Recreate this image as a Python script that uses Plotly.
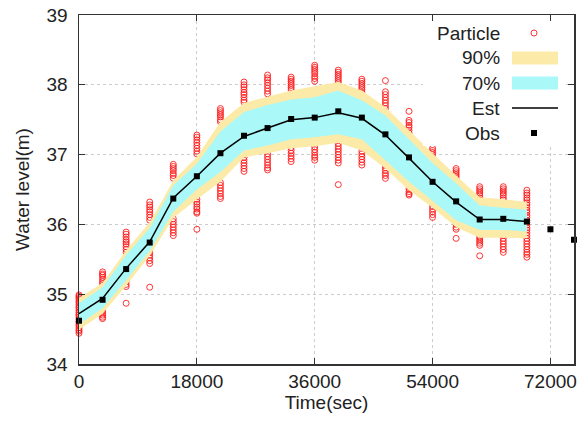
import plotly.graph_objects as go

# ---------------- data ----------------
obs_time = [0, 3600, 7200, 10800, 14400, 18000, 21600, 25200, 28800, 32400, 36000,
            39600, 43200, 46800, 50400, 54000, 57600, 61200, 64800, 68400, 72000, 75600]
obs_level = [34.62, 34.92, 35.36, 35.74, 36.37, 36.69, 37.02, 37.27, 37.38, 37.51, 37.53,
             37.62, 37.53, 37.29, 36.96, 36.61, 36.33, 36.07, 36.08, 36.04, 35.93, 35.78]

est_time = [0, 3600, 7200, 10800, 14400, 18000, 21600, 25200, 28800, 32400, 36000,
            39600, 43200, 46800, 50400, 54000, 57600, 61200, 64800, 68400]
est_level = [34.72, 34.94, 35.37, 35.75, 36.38, 36.69, 37.02, 37.26, 37.38, 37.50, 37.53,
             37.60, 37.52, 37.28, 36.95, 36.61, 36.32, 36.07, 36.07, 36.04]

p90_low = [34.49, 34.72, 35.12, 35.55, 36.09, 36.36, 36.61, 36.96, 37.02, 37.09, 37.12,
           37.17, 37.06, 36.80, 36.49, 36.24, 35.96, 35.81, 35.81, 35.80]
p90_high = [34.95, 35.16, 35.63, 36.03, 36.63, 36.97, 37.47, 37.74, 37.83, 37.92, 37.98,
            38.04, 37.92, 37.68, 37.35, 37.02, 36.70, 36.39, 36.36, 36.32]
p70_low = [34.57, 34.80, 35.20, 35.62, 36.18, 36.50, 36.75, 37.06, 37.13, 37.22, 37.25,
           37.29, 37.22, 36.92, 36.61, 36.34, 36.06, 35.92, 35.92, 35.90]
p70_high = [34.87, 35.10, 35.56, 35.95, 36.56, 36.87, 37.33, 37.61, 37.71, 37.79, 37.82,
            37.92, 37.78, 37.56, 37.22, 36.88, 36.59, 36.27, 36.24, 36.21]

particle_levels = [
    [34.44, 34.47, 34.49, 34.52, 34.55, 34.57, 34.60, 34.61, 34.64, 34.67, 34.70, 34.71,
     34.74, 34.77, 34.80, 34.82, 34.85, 34.88, 34.90, 34.93, 34.95, 34.97, 34.99],
    [35.32, 35.29, 35.27, 35.24, 35.21, 35.18, 35.15, 35.05, 34.98, 34.90, 34.84, 34.79,
     34.76, 34.73, 34.70, 34.67, 34.65],
    [35.89, 35.86, 35.82, 35.78, 35.75, 35.72, 35.68, 35.64, 35.60, 35.50, 35.40, 35.32,
     35.28, 35.25, 35.21, 35.18, 35.14, 35.11, 34.87],
    [36.32, 36.28, 36.25, 36.21, 36.18, 36.14, 36.10, 36.06, 35.90, 35.80, 35.68, 35.64,
     35.60, 35.56, 35.52, 35.48, 35.44, 35.10],
    [36.86, 36.83, 36.80, 36.77, 36.73, 36.70, 36.66, 36.50, 36.40, 36.30, 36.20, 36.08,
     36.04, 36.00, 35.96, 35.92, 35.88, 35.84],
    [37.28, 37.25, 37.21, 37.17, 37.13, 37.09, 37.05, 37.01, 36.80, 36.60, 36.36, 36.32,
     36.29, 36.25, 36.22, 36.18, 36.16, 35.93],
    [37.66, 37.63, 37.60, 37.57, 37.54, 37.50, 37.47, 37.20, 37.00, 36.80, 36.60, 36.56,
     36.52, 36.48, 36.44, 36.40, 36.37],
    [38.04, 38.00, 37.97, 37.93, 37.89, 37.86, 37.82, 37.78, 37.75, 37.50, 37.30, 37.10,
     36.96, 36.92, 36.88, 36.84, 36.80, 36.76],
    [38.14, 38.10, 38.07, 38.03, 37.99, 37.95, 37.91, 37.87, 37.60, 37.40, 37.20, 37.01,
     36.97, 36.93, 36.89, 36.85, 36.81, 36.78],
    [38.11, 38.08, 38.05, 38.02, 37.99, 37.96, 37.93, 37.70, 37.50, 37.30, 37.10, 37.06,
     37.02, 36.98, 36.94, 36.90],
    [38.28, 38.25, 38.22, 38.19, 38.16, 38.12, 38.09, 38.05, 37.80, 37.60, 37.40, 37.20,
     37.11, 37.07, 37.03, 36.99, 36.96, 36.92],
    [38.21, 38.18, 38.15, 38.12, 38.09, 38.06, 38.03, 37.80, 37.60, 37.40, 37.16, 37.12,
     37.08, 37.04, 37.00, 36.96, 36.92, 36.88, 36.57],
    [38.08, 38.05, 38.02, 37.99, 37.96, 37.93, 37.89, 37.70, 37.50, 37.30, 37.05, 37.01,
     36.97, 36.93, 36.89, 36.85],
    [38.06, 37.90, 37.86, 37.82, 37.78, 37.74, 37.70, 37.66, 37.40, 37.20, 37.00, 36.85,
     36.81, 36.77, 36.73, 36.70, 36.66],
    [37.62, 37.49, 37.46, 37.42, 37.39, 37.35, 37.31, 37.10, 36.90, 36.70, 36.60, 36.55,
     36.51, 36.47, 36.44, 36.42],
    [37.09, 37.06, 37.03, 37.00, 36.96, 36.92, 36.70, 36.50, 36.35, 36.30, 36.26, 36.22,
     36.18, 36.14, 36.10],
    [36.80, 36.77, 36.74, 36.71, 36.68, 36.64, 36.60, 36.40, 36.20, 36.08, 36.04, 36.00,
     35.96, 35.93, 35.80],
    [36.54, 36.51, 36.48, 36.45, 36.42, 36.38, 36.35, 36.20, 36.00, 35.86, 35.82, 35.79,
     35.76, 35.73, 35.70, 35.55],
    [36.54, 36.51, 36.48, 36.45, 36.42, 36.38, 36.35, 36.20, 36.00, 35.84, 35.80, 35.76,
     35.72, 35.68, 35.64, 35.60],
    [36.49, 36.45, 36.42, 36.38, 36.35, 36.31, 36.28, 36.24, 36.20, 36.17, 36.13, 36.10,
     36.06, 36.03, 35.99, 35.95, 35.92, 35.88, 35.84, 35.80, 35.76, 35.72, 35.68, 35.64,
     35.60, 35.57, 35.53],
]

x_ticks = [0, 18000, 36000, 54000, 72000]
y_ticks = [34, 35, 36, 37, 38, 39]
legend_labels = ["Particle", "90%", "70%", "Est", "Obs"]

# ---------------- styles ----------------
FONT = "Liberation Sans, Arial, Helvetica, sans-serif"
YELLOW = "#FCEBA8"
CYAN = "#AAF8F8"
RED = "rgba(255,20,20,0.85)"

px_, py_ = [], []
for t, vals in zip(est_time, particle_levels):
    for v in vals:
        px_.append(t)
        py_.append(v)

fig = go.Figure()
fig.add_trace(go.Scatter(x=px_, y=py_, mode="markers", cliponaxis=False,
                         marker=dict(symbol="circle-open", size=6, color=RED,
                                     line=dict(width=1, color=RED)),
                         showlegend=False, hoverinfo="skip"))
fig.add_trace(go.Scatter(x=est_time + est_time[::-1], y=p90_high + p90_low[::-1],
                         fill="toself", fillcolor=YELLOW, mode="none",
                         showlegend=False, hoverinfo="skip"))
fig.add_trace(go.Scatter(x=est_time + est_time[::-1], y=p70_high + p70_low[::-1],
                         fill="toself", fillcolor=CYAN, mode="none",
                         showlegend=False, hoverinfo="skip"))
fig.add_trace(go.Scatter(x=est_time, y=est_level, mode="lines",
                         line=dict(color="black", width=1.5), showlegend=False))
fig.add_trace(go.Scatter(x=obs_time, y=obs_level, mode="markers", cliponaxis=False,
                         marker=dict(symbol="square", size=6, color="black"),
                         showlegend=False))

# ---------------- manual gnuplot-style key ----------------
# plot-area edges in window pixels
L, R, T, B = 79, 574, 15, 364
W, H = R - L, B - T
FIG_W, FIG_H = 587, 423

def fx(p):
    return (p - L) / W
def fy(p):
    return (B - p) / H

shapes = [dict(type="rect", xref="paper", yref="paper", layer="above",
               x0=fx(423), x1=fx(566), y0=fy(146), y1=fy(21),
               fillcolor="white", line=dict(width=0))]
annotations = []
rows = [33, 58, 83, 108, 133]
for lab, yc in zip(legend_labels, rows):
    annotations.append(dict(xref="paper", yref="paper", x=fx(502), y=fy(yc),
                            xanchor="right", yanchor="middle", text=lab,
                            showarrow=False, font=dict(family=FONT, size=19, color="#222")))
shapes.append(dict(type="circle", xref="paper", yref="paper", layer="above",
                   x0=fx(531), x1=fx(537), y0=fy(rows[0] + 3), y1=fy(rows[0] - 3),
                   line=dict(color=RED, width=1)))
shapes.append(dict(type="rect", xref="paper", yref="paper", layer="above",
                   x0=fx(512), x1=fx(558), y0=fy(rows[1] + 6.5), y1=fy(rows[1] - 6.5),
                   fillcolor=YELLOW, line=dict(width=0)))
shapes.append(dict(type="rect", xref="paper", yref="paper", layer="above",
                   x0=fx(512), x1=fx(558), y0=fy(rows[2] + 6.5), y1=fy(rows[2] - 6.5),
                   fillcolor=CYAN, line=dict(width=0)))
shapes.append(dict(type="line", xref="paper", yref="paper", layer="above",
                   x0=fx(512), x1=fx(558), y0=fy(rows[3]), y1=fy(rows[3]),
                   line=dict(color="black", width=1.5)))
shapes.append(dict(type="rect", xref="paper", yref="paper", layer="above",
                   x0=fx(531), x1=fx(537), y0=fy(rows[4] + 3), y1=fy(rows[4] - 3),
                   fillcolor="black", line=dict(width=0)))

axis_common = dict(showgrid=True, gridcolor="#cccccc", griddash="dot", gridwidth=1,
                   ticks="inside", ticklen=6, tickcolor="#333", tickwidth=1,
                   showline=True, linecolor="#333", linewidth=1.5, mirror="ticks",
                   zeroline=False, automargin=False, ticklabeloverflow="allow",
                   tickfont=dict(family=FONT, size=19, color="#222"))

fig.update_layout(
    width=FIG_W, height=FIG_H,
    margin=dict(l=L, r=FIG_W - R, t=T, b=FIG_H - B),
    paper_bgcolor="white", plot_bgcolor="white",
    shapes=shapes, annotations=annotations,
    xaxis=dict(range=[0, 75600], tickvals=x_ticks, ticktext=[str(v) for v in x_ticks],
               title=dict(text="Time(sec)", font=dict(family=FONT, size=19, color="#222"),
                          standoff=2),
               **axis_common),
    yaxis=dict(range=[34, 39], tickvals=y_ticks, ticktext=[str(v) for v in y_ticks],
               title=dict(text="Water level(m)", font=dict(family=FONT, size=19, color="#222"),
                          standoff=12),
               ticklabelstandoff=6,
               **axis_common),
)

# remove the browser's default 8px page margin so the figure fills the window
fig.write_html("out.html",
               config={"displayModeBar": False, "staticPlot": True},
               post_script="document.body.style.margin='0px';"
                           "document.body.style.overflow='hidden';")
